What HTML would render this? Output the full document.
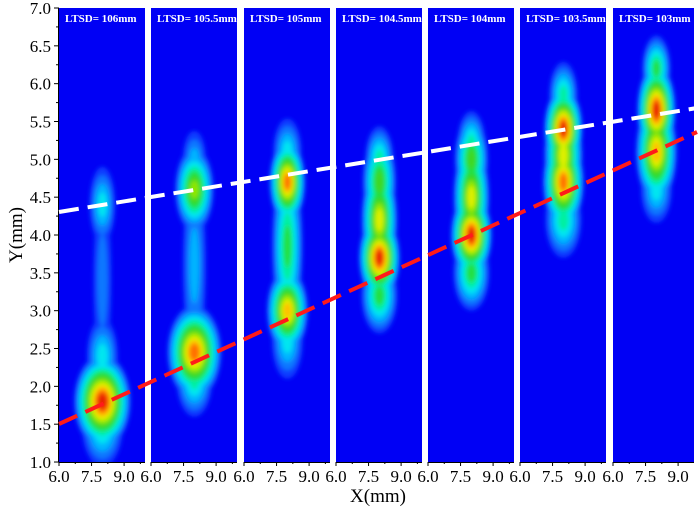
<!DOCTYPE html>
<html><head><meta charset="utf-8"><style>
body{margin:0;background:#fff;}
svg text{font-family:"Liberation Serif",serif;}
</style></head><body>
<svg id="s" width="700" height="509" xmlns="http://www.w3.org/2000/svg">
<defs><filter id="bl" x="-50%" y="-50%" width="200%" height="200%"><feGaussianBlur stdDeviation="2"/></filter></defs>
<g id="panels"></g>
<g id="axes" fill="#000" font-size="17"></g>
<line x1="59" y1="424" x2="697" y2="132" stroke="#ff1a1a" stroke-width="4" stroke-dasharray="20,9"/>
<line x1="59" y1="212" x2="697" y2="108" stroke="#fff" stroke-width="4" stroke-dasharray="20,9"/>
<text x="22" y="235" font-size="19" transform="rotate(-90 22 235)" text-anchor="middle">Y(mm)</text>
<text x="378" y="502" font-size="19" text-anchor="middle">X(mm)</text>
</svg>
<script>
(function(){
const NS="http://www.w3.org/2000/svg";
const s=document.getElementById('s'),P=document.getElementById('panels'),A=document.getElementById('axes');
function el(t,a,p){const e=document.createElementNS(NS,t);for(const k in a)e.setAttribute(k,a[k]);(p||P).appendChild(e);return e;}
const lefts=[59,151,244,336,428,520,613],W=86,T0=8,B0=462;
const Y=v=>8+(7-v)*75.67, XS=21.7;
const labels=["106mm","105.5mm","105mm","104.5mm","104mm","103.5mm","103mm"];
const cols=["#0a3cff","#0a78ff","#00b4ff","#00e6f0","#00f0a0","#20e040","#40d820","#90e800","#e0f000","#ffc000","#ff7000","#e82000"];
const B=[
 [[8.0,1.8,1.1,0.5,12],[8.0,4.4,0.5,0.4,4],[8.0,3.4,0.35,0.9,2],[8.0,1.5,0.8,0.45,5],[8.0,2.4,0.6,0.4,4]],
 [[8.0,2.45,1.05,0.5,11],[8.0,4.6,0.75,0.45,8],[8.0,3.6,0.45,1.0,3],[8.0,2.1,0.7,0.4,5],[8.0,5.0,0.45,0.3,3]],
 [[8.0,4.7,0.7,0.45,11],[8.0,3.0,0.8,0.45,10],[8.0,3.85,0.6,0.9,6],[8.0,2.6,0.6,0.4,4],[8.0,5.1,0.55,0.35,4]],
 [[8.0,3.7,0.8,0.45,12],[8.0,4.2,0.7,0.6,9],[8.0,4.7,0.65,0.5,7],[8.0,3.2,0.7,0.4,6],[8.0,5.0,0.55,0.35,5]],
 [[8.0,4.0,0.8,0.45,12],[8.0,4.5,0.7,0.6,9],[8.0,5.0,0.65,0.45,7],[8.0,3.5,0.7,0.4,6],[8.0,5.2,0.55,0.35,5]],
 [[8.0,5.4,0.75,0.45,12],[8.0,4.7,0.8,0.5,11],[8.0,5.05,0.75,0.6,9],[8.0,4.2,0.7,0.4,5],[8.0,5.85,0.55,0.35,5]],
 [[8.0,5.65,0.75,0.5,12],[8.0,5.1,0.8,0.55,10],[8.0,4.6,0.6,0.35,4],[8.0,6.2,0.55,0.35,6]]
];
const defs=s.querySelector('defs');
lefts.forEach((L,i)=>{
 const w=i==6?81:W;
 const cp=el('clipPath',{id:'c'+i},defs);
 el('rect',{x:L,y:T0,width:w,height:B0-T0},cp);
 const g=el('g',{'clip-path':'url(#c'+i+')'});
 el('rect',{x:L,y:T0,width:w,height:B0-T0,fill:'#0000f5'},g);
 const gg=el('g',{filter:'url(#bl)'},g);
 for(let lv=0;lv<12;lv++){
  B[i].forEach(b=>{
   const n=b[4]; if(lv>=n) return;
   const f=1-lv/n*0.9;
   el('ellipse',{cx:L+(b[0]-6)*XS,cy:Y(b[1]),rx:b[2]*XS*1.2*f,ry:b[3]*75.67*1.25*f,fill:cols[lv]},gg);
  });
 }
 const t=el('text',{x:L+6,y:22,fill:'#fff','font-size':'11','font-weight':'bold'},g);t.textContent='LTSD= '+labels[i];
 [6,7.5,9].forEach(v=>{const x=L+(v-6)*XS;el('line',{x1:x,y1:462,x2:x,y2:466,stroke:'#000'},A);
  const tt=el('text',{x:x,y:482,'text-anchor':'middle'},A);tt.textContent=v.toFixed(1);});
 [6.75,8.25,9.75].forEach(v=>{const x=L+(v-6)*XS;if(x<L+w)el('line',{x1:x,y1:462,x2:x,y2:464,stroke:'#000'},A);});
 el('line',{x1:L,y1:462.5,x2:L+w,y2:462.5,stroke:'#000'},A);
});
el('line',{x1:58.5,y1:8,x2:58.5,y2:462,stroke:'#000'},A);
for(let v=1;v<=7.001;v+=0.5){const y=Y(v);el('line',{x1:54,y1:y,x2:59,y2:y,stroke:'#000'},A);
 const t=el('text',{x:51,y:y+6,'text-anchor':'end'},A);t.textContent=v.toFixed(1);
 if(v<7)el('line',{x1:56,y1:Y(v+0.25),x2:59,y2:Y(v+0.25),stroke:'#000'},A);}
})();
</script>
</body></html>
